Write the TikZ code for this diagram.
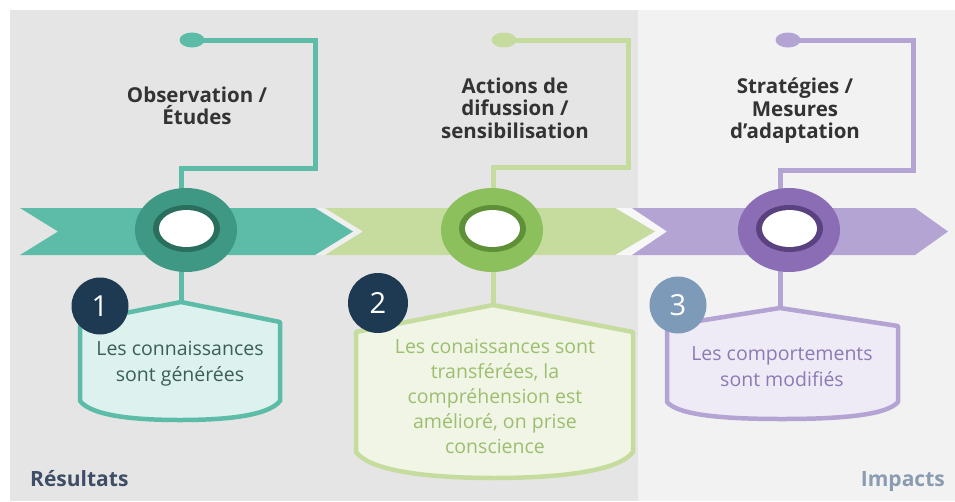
\documentclass[tikz,border=0pt]{standalone}
\usepackage{fontspec}
\setmainfont{Open Sans}
\usetikzlibrary{shapes.geometric}
\definecolor{panelL}{HTML}{E5E5E5}
\definecolor{panelR}{HTML}{F2F2F2}
\definecolor{gapc}{HTML}{EFEFEF}
\definecolor{tealband}{HTML}{5DBCA8}
\definecolor{tealouter}{HTML}{3E9883}
\definecolor{tealring}{HTML}{2A6E5E}
\definecolor{tealfill}{HTML}{DDF1EE}
\definecolor{tealtext}{HTML}{3B5E58}
\definecolor{greenband}{HTML}{C6DC9F}
\definecolor{greenouter}{HTML}{8CC05C}
\definecolor{greenring}{HTML}{5F8F36}
\definecolor{greenfill}{HTML}{F0F5E6}
\definecolor{greentext}{HTML}{9DBE6E}
\definecolor{purpband}{HTML}{B4A4D3}
\definecolor{purpouter}{HTML}{8B6DB6}
\definecolor{purpring}{HTML}{5A4180}
\definecolor{purpfill}{HTML}{EFEBF6}
\definecolor{purptext}{HTML}{8B7AB3}
\definecolor{navy}{HTML}{1E3A52}
\definecolor{steel}{HTML}{7D9BB8}
\definecolor{titlegray}{HTML}{333333}
\definecolor{resgray}{HTML}{3F4E66}
\definecolor{impgray}{HTML}{8A9BB2}
\tikzset{
  conn/.style={line width=5pt},
  outerc/.style={ellipse, minimum width=102pt, minimum height=84pt, inner sep=0pt},
  ringc/.style={ellipse, minimum width=67pt, minimum height=47pt, inner sep=0pt},
  holec/.style={ellipse, minimum width=55pt, minimum height=37pt, inner sep=0pt, fill=white},
  dotc/.style={ellipse, minimum width=25pt, minimum height=15pt, inner sep=0pt},
  badge/.style={circle, minimum size=57pt, inner sep=0pt, text=white, font=\fontsize{29}{30}\selectfont},
  titletxt/.style={align=center, text=titlegray, font=\bfseries\fontsize{20.5}{22.5}\selectfont},
  bodytxt/.style={align=center, font=\fontsize{19.5}{26}\selectfont},
  pent/.style={line width=4.5pt, line join=round}
}
\begin{document}
\begin{tikzpicture}[x=1pt,y=-1pt]
\useasboundingbox (0,0) rectangle (955,501);
% panels
\fill[panelL] (10,10) rectangle (638,501);
\fill[panelR] (638,10) rectangle (955,501);
% gaps between chevrons
\fill[gapc] (315,208) -- (325,208) -- (363,231.5) -- (325,255) -- (315,255) -- (353,231.5) -- cycle;
\fill[panelR!60!white] (615,208) -- (632,208) -- (667,231.5) -- (632,255) -- (615,255) -- (655,231.5) -- cycle;
% chevrons
\fill[tealband] (20,208) -- (315,208) -- (353,231.5) -- (315,255) -- (20,255) -- (58,231.5) -- cycle;
\fill[greenband] (325,208) -- (615,208) -- (655,231.5) -- (615,255) -- (325,255) -- (363,231.5) -- cycle;
\fill[purpband] (632,208) -- (915,208) -- (948,231.5) -- (915,255) -- (632,255) -- (667,231.5) -- cycle;
% named positions
\coordinate (t1) at (181,230);
\coordinate (t2) at (493,230);
\coordinate (t3) at (780,230);
\coordinate (e1) at (315,168);
\coordinate (e2) at (628,167);
\coordinate (e3) at (913,170);
\node[dotc, fill=tealband] (d1) at (192,40) {};
\node[dotc, fill=greenband] (d2) at (504,40) {};
\node[dotc, fill=purpband] (d3) at (788,40) {};
\coordinate (a1) at (181,302);
\coordinate (a2) at (493,305);
\coordinate (a3) at (780,308);
% top connectors
\draw[conn, tealband] (t1) |- (e1) |- (d1.center);
\draw[conn, greenband] (t2) |- (e2) |- (d2.center);
\draw[conn, purpband] (t3) |- (e3) |- (d3.center);
% lower connectors
\draw[conn, tealband] (t1) -- (a1);
\draw[conn, greenband] (t2) -- (a2);
\draw[conn, purpband] (t3) -- (a3);
% circles
\node[outerc, fill=tealouter] (c1) at (186,230) {};
\node[ringc, fill=tealring] at (186.5,228.5) {};
\node[holec] at (186.5,228.5) {};
\node[outerc, fill=greenouter] (c2) at (492,230) {};
\node[ringc, fill=greenring] at (492.5,228.5) {};
\node[holec] at (492.5,228.5) {};
\node[outerc, fill=purpouter] (c3) at (789,230) {};
\node[ringc, fill=purpring] at (789.5,228.5) {};
\node[holec] at (789.5,228.5) {};
% pentagons
\draw[pent, draw=tealband, fill=tealfill] (a1) -- (280,322) -- (280,401)
  .. controls (268,416) and (225,420) .. (180,420)
  .. controls (135,420) and (92,416) .. (80,401) -- (80,322) -- cycle;
\draw[pent, draw=greenband, fill=greenfill] (a2) -- (633,332) -- (633,452)
  .. controls (618,472) and (555,478) .. (494,478)
  .. controls (433,478) and (371,472) .. (356,452) -- (356,332) -- cycle;
\draw[pent, draw=purpband, fill=purpfill] (a3) -- (898,326) -- (898,402)
  .. controls (886,416) and (835,419) .. (782,419)
  .. controls (729,419) and (679,416) .. (667,402) -- (667,326) -- cycle;
% badges
\node[badge, fill=navy] (b1) at (100,306) {1};
\node[badge, fill=navy, minimum size=60pt] (b2) at (378,303) {2};
\node[badge, fill=steel] (b3) at (678,305) {3};
% titles
\node[titletxt] (h1) at (197,106) {Observation /\\Études};
\node[titletxt] (h2) at (515,108) {Actions de\\difussion /\\sensibilisation};
\node[titletxt] (h3) at (795,111) {Stratégies /\\Mesures\\d’adaptation};
% bodies
\node[bodytxt, text=tealtext] (x1) at (180,364) {Les connaissances\\sont générées};
\node[bodytxt, text=greentext, font=\fontsize{19.5}{25}\selectfont] (x2) at (495,396) {Les conaissances sont\\transférées, la\\compréhension est\\amélioré, on prise\\conscience};
\node[bodytxt, text=purptext] (x3) at (782,367) {Les comportements\\sont modifiés};
% footer labels
\node[anchor=base west, inner sep=0pt, text=resgray, font=\bfseries\fontsize{21}{24}\selectfont] (r) at (30,486) {Résultats};
\node[anchor=base east, inner sep=0pt, text=impgray, font=\bfseries\fontsize{21}{24}\selectfont] (i) at (945,486) {Impacts};
\end{tikzpicture}
\end{document}
